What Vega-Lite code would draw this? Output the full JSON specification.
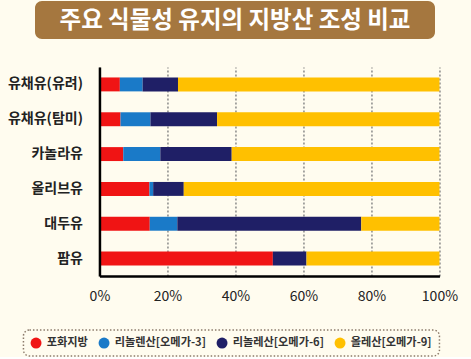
{
  "$schema": "https://vega.github.io/schema/vega-lite/v6.json",
  "background": "#fffcef",
  "padding": {"left": 7, "top": 1, "right": 0, "bottom": 0},
  "spacing": 28,
  "center": true,
  "resolve": {"scale": {"color": "independent"}, "legend": {"color": "independent"}},
  "config": {
    "view": {"stroke": null},
    "font": "Noto Sans CJK KR"
  },
  "vconcat": [
    {
      "width": 400,
      "height": 38,
      "view": {"fill": "#a5773f", "cornerRadius": 7, "stroke": null},
      "title": {"text": " ", "orient": "right", "offset": 87, "fontSize": 1, "angle": 0},
      "data": {"values": [{"t": "주요 식물성 유지의 지방산 조성 비교"}]},
      "mark": {"type": "text", "font": "Noto Sans CJK KR", "fontSize": 23.5, "fontWeight": "bold", "color": "#ffffff", "dy": 1},
      "encoding": {"text": {"field": "t", "type": "nominal"}}
    },
    {
      "width": 340,
      "height": 209,
      "data": {
        "values": [
          {"oil": "유채유(유려)", "type": "포화지방", "k": 1, "value": 6.0},
          {"oil": "유채유(유려)", "type": "리놀렌산[오메가-3]", "k": 2, "value": 6.7},
          {"oil": "유채유(유려)", "type": "리놀레산[오메가-6]", "k": 3, "value": 10.4},
          {"oil": "유채유(유려)", "type": "올레산[오메가-9]", "k": 4, "value": 76.9},
          {"oil": "유채유(탐미)", "type": "포화지방", "k": 1, "value": 6.2},
          {"oil": "유채유(탐미)", "type": "리놀렌산[오메가-3]", "k": 2, "value": 8.8},
          {"oil": "유채유(탐미)", "type": "리놀레산[오메가-6]", "k": 3, "value": 19.6},
          {"oil": "유채유(탐미)", "type": "올레산[오메가-9]", "k": 4, "value": 65.4},
          {"oil": "카놀라유", "type": "포화지방", "k": 1, "value": 7.0},
          {"oil": "카놀라유", "type": "리놀렌산[오메가-3]", "k": 2, "value": 10.9},
          {"oil": "카놀라유", "type": "리놀레산[오메가-6]", "k": 3, "value": 21.0},
          {"oil": "카놀라유", "type": "올레산[오메가-9]", "k": 4, "value": 61.1},
          {"oil": "올리브유", "type": "포화지방", "k": 1, "value": 14.7},
          {"oil": "올리브유", "type": "리놀렌산[오메가-3]", "k": 2, "value": 1.1},
          {"oil": "올리브유", "type": "리놀레산[오메가-6]", "k": 3, "value": 9.0},
          {"oil": "올리브유", "type": "올레산[오메가-9]", "k": 4, "value": 75.2},
          {"oil": "대두유", "type": "포화지방", "k": 1, "value": 14.8},
          {"oil": "대두유", "type": "리놀렌산[오메가-3]", "k": 2, "value": 8.1},
          {"oil": "대두유", "type": "리놀레산[오메가-6]", "k": 3, "value": 54.1},
          {"oil": "대두유", "type": "올레산[오메가-9]", "k": 4, "value": 23.0},
          {"oil": "팜유", "type": "포화지방", "k": 1, "value": 51.0},
          {"oil": "팜유", "type": "리놀렌산[오메가-3]", "k": 2, "value": 0},
          {"oil": "팜유", "type": "리놀레산[오메가-6]", "k": 3, "value": 9.9},
          {"oil": "팜유", "type": "올레산[오메가-9]", "k": 4, "value": 39.1}
        ]
      },
      "mark": {"type": "bar"},
      "encoding": {
        "y": {
          "field": "oil",
          "type": "nominal",
          "sort": ["유채유(유려)", "유채유(탐미)", "카놀라유", "올리브유", "대두유", "팜유"],
          "scale": {"paddingInner": 0.6, "paddingOuter": 0.3},
          "axis": {
            "title": null,
            "zindex": 1,
            "domainColor": "#000000",
            "domainWidth": 2.5,
            "ticks": false,
            "labelFont": "Noto Sans CJK KR",
            "labelFontSize": 14,
            "labelFontWeight": "bold",
            "labelColor": "#222222",
            "labelPadding": 17
          }
        },
        "x": {
          "field": "value",
          "type": "quantitative",
          "stack": "normalize",
          "scale": {"domain": [0, 1]},
          "axis": {
            "title": null,
            "format": "%",
            "values": [0, 0.2, 0.4, 0.6, 0.8, 1],
            "domainColor": "#000000",
            "domainWidth": 2.5,
            "ticks": false,
            "grid": true,
            "gridColor": "#8a8a8a",
            "gridDash": [2, 2],
            "gridWidth": 1.5,
            "labelFont": "Noto Sans CJK KR",
            "labelFontSize": 14,
            "labelColor": "#222222",
            "labelPadding": 13,
            "labelFlush": false
          }
        },
        "color": {
          "field": "type",
          "type": "nominal",
          "scale": {
            "domain": ["포화지방", "리놀렌산[오메가-3]", "리놀레산[오메가-6]", "올레산[오메가-9]"],
            "range": ["#f01414", "#1a7ac8", "#1f1f66", "#ffc000"]
          },
          "legend": {
            "title": null,
            "orient": "none",
            "legendX": -76,
            "legendY": 263,
            "direction": "horizontal",
            "columns": 4,
            "symbolType": "circle",
            "symbolSize": 120,
            "symbolStrokeWidth": 0,
            "labelFont": "Noto Sans CJK KR",
            "labelFontSize": 11.2,
            "labelFontWeight": "bold",
            "labelColor": "#333333",
            "labelOffset": 5,
            "columnPadding": 10,
            "padding": 7,
            "strokeColor": "#8c7b6b",
            "cornerRadius": 6,
            "encode": {"legend": {"update": {"strokeDash": {"value": [1.5, 2]}, "strokeWidth": {"value": 1.5}}}}
          }
        },
        "order": {"field": "k", "type": "quantitative"}
      }
    }
  ]
}
